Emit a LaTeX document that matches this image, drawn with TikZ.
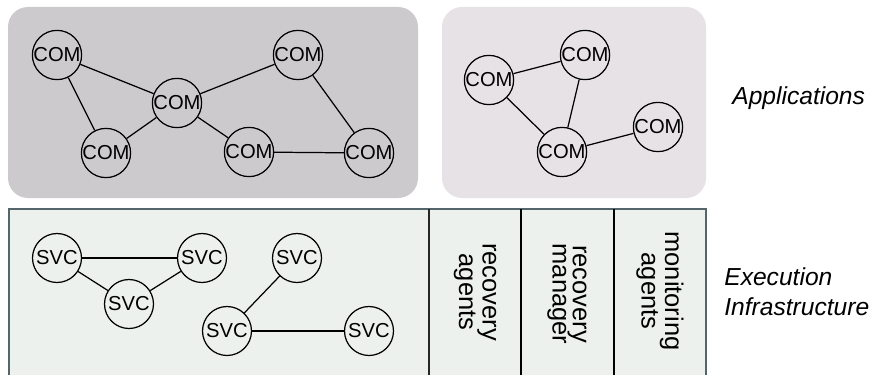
\documentclass[tikz,border=0pt]{standalone}
\usepackage{fontspec}
\setmainfont{Liberation Sans}
\usetikzlibrary{positioning}

\definecolor{appdark}{HTML}{CDCACD}
\definecolor{applight}{HTML}{E7E2E6}
\definecolor{infrafill}{HTML}{EDF1ED}
\definecolor{infraline}{HTML}{55656C}

\begin{document}
\begin{tikzpicture}[
    x=0.02cm, y=-0.02cm,
    panel/.style={rounded corners=0.4cm, draw=none},
    comp/.style={circle, draw=black, line width=0.7pt, inner sep=0pt, minimum size=0.98cm, font=\fontsize{11.5}{12}\selectfont},
    link/.style={line width=0.7pt, draw=black},
    column/.style={rotate=-90, align=center, inner sep=0pt, font=\fontsize{14.5}{11.5}\selectfont},
    layer/.style={anchor=west, align=left, inner sep=0pt, font=\fontsize{14}{17}\selectfont\itshape}
]
    \clip (0,0) rectangle (875,375);

    % application layer
    \fill [panel, fill=appdark] (8,7) rectangle (418,198);
    \fill [panel, fill=applight] (442,7) rectangle (706,198);

    \node [comp] (ca1) at (57,55) {COM};
    \node [comp] (ca2) at (177,103) {COM};
    \node [comp] (ca3) at (298,55) {COM};
    \node [comp] (ca4) at (106,153) {COM};
    \node [comp] (ca5) at (249,152) {COM};
    \node [comp] (ca6) at (369,153) {COM};

    \draw [link] (ca1) -- (ca2);
    \draw [link] (ca1) -- (ca4);
    \draw [link] (ca2) -- (ca3);
    \draw [link] (ca2) -- (ca4);
    \draw [link] (ca2) -- (ca5);
    \draw [link] (ca3) -- (ca6);
    \draw [link] (ca5) -- (ca6);

    \node [comp] (cb1) at (489,80) {COM};
    \node [comp] (cb2) at (585,55) {COM};
    \node [comp] (cb3) at (562,152) {COM};
    \node [comp] (cb4) at (658,127) {COM};

    \draw [link] (cb1) -- (cb2);
    \draw [link] (cb1) -- (cb3);
    \draw [link] (cb2) -- (cb3);
    \draw [link] (cb3) -- (cb4);

    \node [layer] (apps) at (732,98) {Applications};

    % execution infrastructure
    \draw [fill=infrafill, draw=infraline, line width=0.8pt] (9,209) rectangle (706,380);
    \draw [black!85, line width=0.8pt] (429,209) -- (429,380);
    \draw [black, line width=0.8pt] (521,209) -- (521,380);
    \draw [black, line width=0.8pt] (614,209) -- (614,380);

    \node [comp] (svc1) at (57,258) {SVC};
    \node [comp] (svc2) at (202,258) {SVC};
    \node [comp] (svc3) at (129,304) {SVC};
    \node [comp] (svc4) at (297,258) {SVC};
    \node [comp] (svc5) at (227,331) {SVC};
    \node [comp] (svc6) at (369,331) {SVC};

    \draw [link] (svc1) -- (svc2);
    \draw [link] (svc1) -- (svc3);
    \draw [link] (svc2) -- (svc3);
    \draw [link] (svc4) -- (svc5);
    \draw [link] (svc5) -- (svc6);

    \node [column] (ragents) at (475,292) {recovery\\agents};
    \node [column] (rmanager) at (567,294) {recovery\\manager};
    \node [column] (magents) at (660,291) {monitoring\\agents};

    \node [layer] (infra) at (724,292) {Execution\\Infrastructure};
\end{tikzpicture}
\end{document}
